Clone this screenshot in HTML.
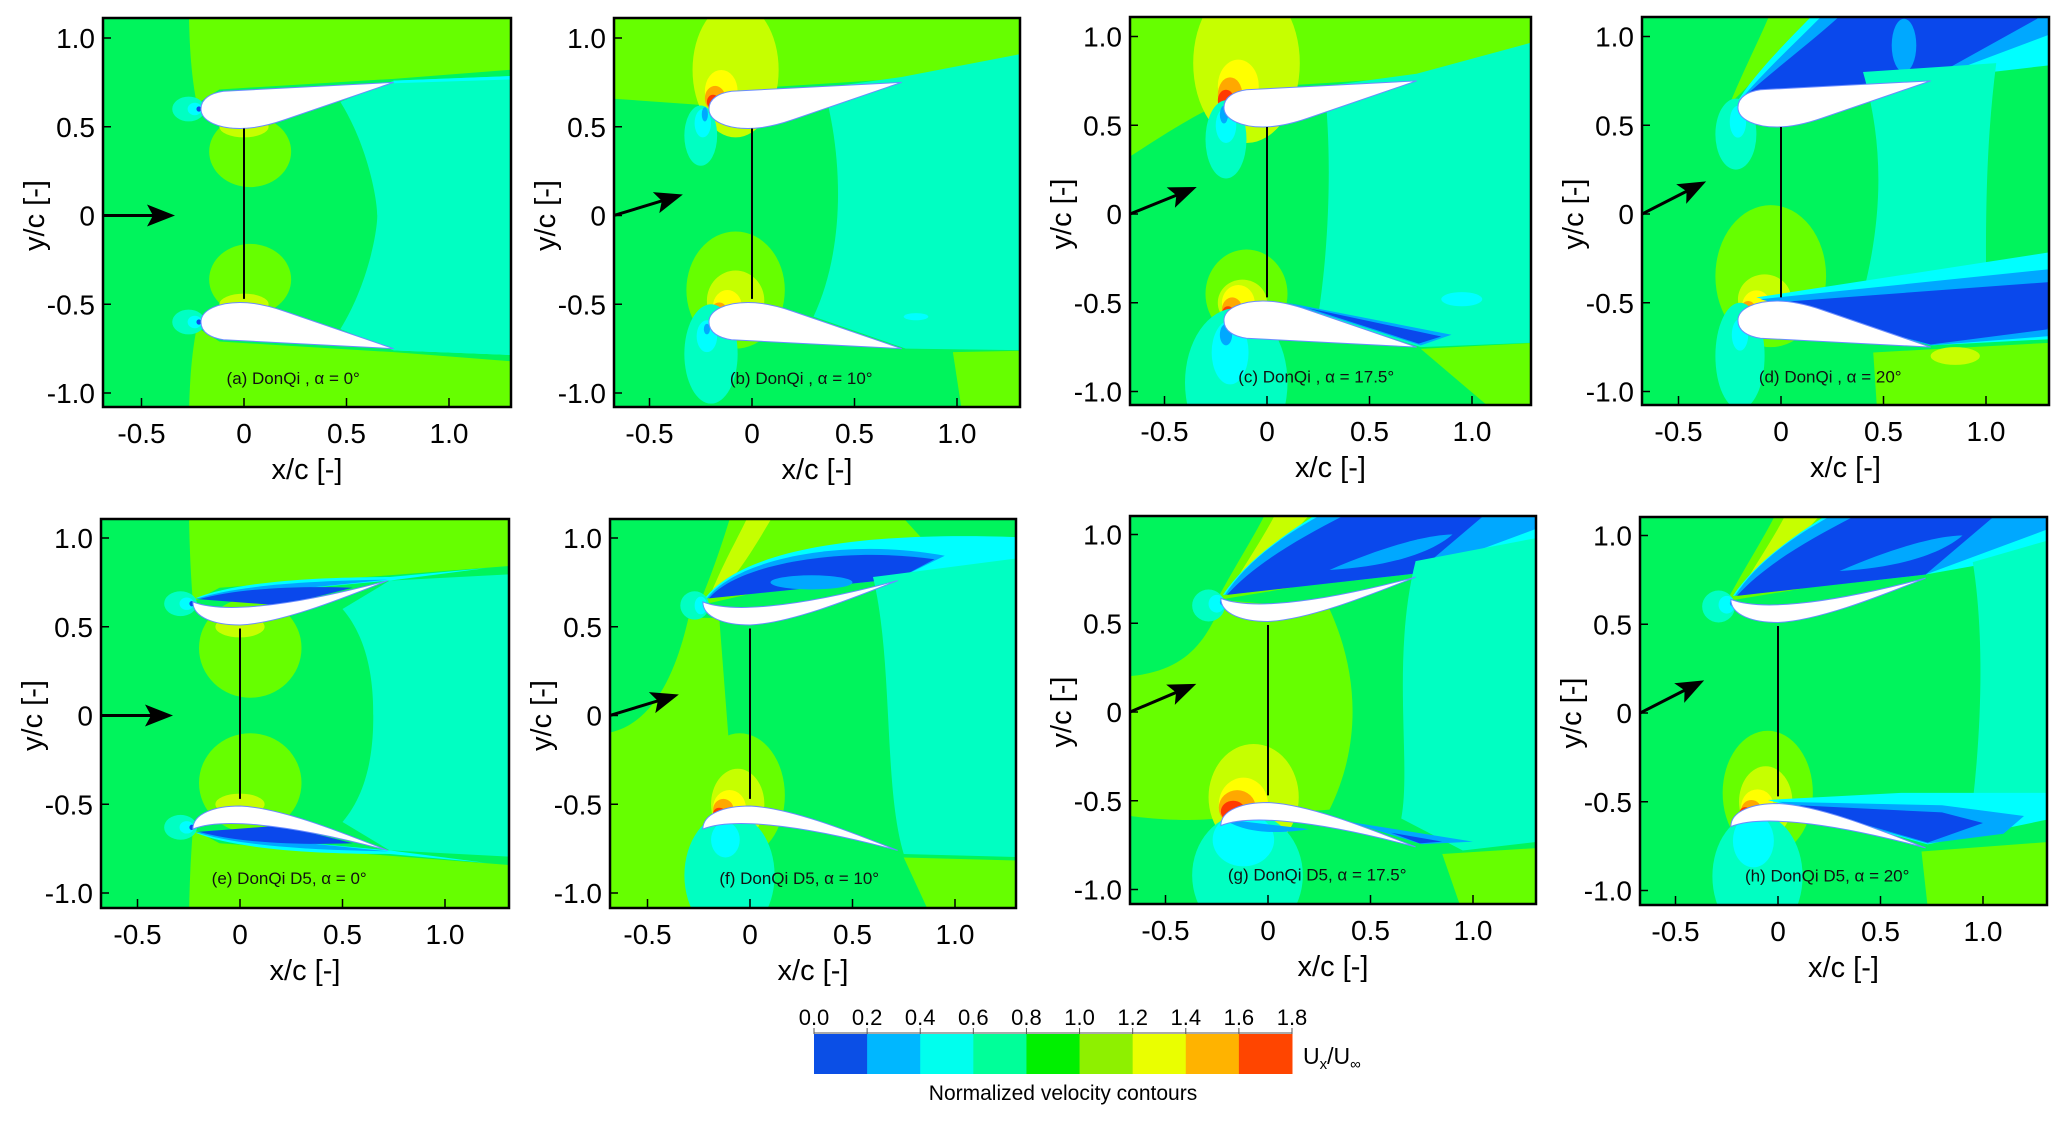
<!DOCTYPE html>
<html><head><meta charset="utf-8"><style>
html,body{margin:0;padding:0;background:#fff;}
svg{display:block;font-family:"Liberation Sans",Arial,sans-serif;}
</style></head><body>
<svg id="fig" width="2067" height="1122" viewBox="0 0 2067 1122" xmlns="http://www.w3.org/2000/svg">
<defs id="defs"></defs>
</svg>
<script>
// ---- data arrays ----
var alphas = [0, 10, 17.5, 20, 0, 10, 17.5, 20];
var arrowDisplayAngles = [0, 17, 22, 27, 0, 17, 23, 27];
var panelLetters = ['a','b','c','d','e','f','g','h'];
var models = ['DonQi','DonQi','DonQi','DonQi','DonQi D5','DonQi D5','DonQi D5','DonQi D5'];
var yTicks = [1.0, 0.5, 0, -0.5, -1.0];
var yTickLabels = ['1.0','0.5','0','-0.5','-1.0'];
var xTicks = [-0.5, 0, 0.5, 1.0];
var xTickLabels = ['-0.5','0','0.5','1.0'];
var cbLevels = ['0.0','0.2','0.4','0.6','0.8','1.0','1.2','1.4','1.6','1.8'];
var cbColors = ['#0b4fe6','#00b7ff','#00ffee','#00ff99','#00f000','#8ef000','#eaff00','#ffb300','#ff4500'];

var G='#00f45c', W='#00ffc2', L='#66ff00', YL='#c6ff00', Y='#ffff00', O='#ffa800', R='#ff3a00', C='#00ffff', B1='#00a8ff', B0='#0a48ec';
function E(cx,cy,rx,ry){return 'M '+(cx-rx)+' '+cy+' A '+rx+' '+ry+' 0 1 0 '+(cx+rx)+' '+cy+' A '+rx+' '+ry+' 0 1 0 '+(cx-rx)+' '+cy+' Z';}
function ring(x,y){return [[W,E(x,y,0.08,0.075)],[C,E(x+0.03,y,0.035,0.04)],[B1,E(x+0.05,y,0.015,0.02)]];}

var layout = [
 {x1:103,x2:511,y1:18,y2:407,x0:244,y0:215.5},
 {x1:614,x2:1020,y1:18,y2:407,x0:752,y0:215.5},
 {x1:1130,x2:1531,y1:17,y2:405,x0:1267,y0:214},
 {x1:1642,x2:2049,y1:17,y2:405,x0:1781,y0:214},
 {x1:101,x2:509,y1:519,y2:908,x0:240,y0:715.5},
 {x1:610,x2:1016,y1:519,y2:908,x0:750,y0:715.5},
 {x1:1130,x2:1536,y1:516,y2:904,x0:1268,y0:712},
 {x1:1640,x2:2047,y1:517,y2:905,x0:1778,y0:713}
];
var KX=205, KY=177.5;

var AIR_DONQI="M -0.21 0.6 C -0.21 0.66 -0.16 0.69 -0.1 0.7 L 0.73 0.75 L 0.2 0.54 C 0.1 0.5 0.03 0.49 -0.02 0.49 C -0.12 0.49 -0.21 0.53 -0.21 0.6 Z";
var AIR_D5="M -0.23 0.64 C -0.1 0.58 0.2 0.6 0.72 0.76 C 0.5 0.66 0.2 0.52 0.0 0.51 C -0.12 0.51 -0.23 0.55 -0.23 0.64 Z";

// shapes: [color, path, mirrored]
var S = [];
S[0] = [
 [L,"M -0.27 1.3 L 1.4 1.3 L 1.4 0.83 L 0.73 0.77 L -0.12 0.71 L -0.23 0.63 C -0.26 0.8 -0.27 1.0 -0.27 1.3 Z",1],
 [L,E(0.03,0.36,0.2,0.2),1],[YL,E(0.0,0.5,0.12,0.06),1],
 [W,"M 0.47 0.64 C 0.6 0.4 0.65 0.1 0.65 0 C 0.65 -0.1 0.6 -0.4 0.47 -0.64 L 0.73 -0.76 L 1.4 -0.79 L 1.4 0.79 L 0.73 0.76 Z",0],
 [C,"M 0.73 0.745 L 1.4 0.77 L 1.4 0.79 L 0.73 0.76 Z",1],
 [W,E(-0.27,0.6,0.08,0.07),1],[C,E(-0.24,0.6,0.035,0.035),1],[B0,E(-0.22,0.6,0.012,0.015),1]
];
S[1] = [
 [L,"M -0.7 0.66 L -0.21 0.62 L -0.1 0.71 L 0.73 0.77 L 1.4 0.93 L 1.4 1.3 L -0.7 1.3 Z",0],
 [YL,E(-0.08,0.82,0.21,0.38),0],[Y,E(-0.15,0.7,0.08,0.12),0],[O,E(-0.18,0.66,0.05,0.07),0],[R,E(-0.19,0.64,0.03,0.04),0],
 [W,"M 0.35 0.72 L 0.73 0.78 L 1.4 0.93 L 1.4 -0.76 L 0.75 -0.75 L 0.3 -0.57 C 0.45 -0.2 0.45 0.3 0.35 0.72 Z",0],
 [L,"M 1.05 -1.3 L 0.98 -0.77 L 1.4 -0.76 L 1.4 -1.3 Z",0],
 [W,E(-0.25,0.45,0.08,0.17),0],[C,E(-0.24,0.52,0.04,0.08),0],[B1,E(-0.23,0.57,0.015,0.04),0],
 [L,E(-0.08,-0.42,0.24,0.33),0],[YL,E(-0.08,-0.48,0.14,0.17),0],[Y,E(-0.12,-0.51,0.07,0.09),0],[O,E(-0.16,-0.54,0.04,0.05),0],
 [W,E(-0.2,-0.78,0.13,0.28),0],[C,E(-0.22,-0.68,0.05,0.09),0],[B1,E(-0.22,-0.64,0.015,0.03),0],
 [C,E(0.8,-0.57,0.06,0.02),0]
];
S[2] = [
 [L,"M -0.7 0.3 C -0.5 0.45 -0.3 0.6 -0.21 0.62 L -0.1 0.71 L 0.73 0.77 L 1.4 0.98 L 1.4 1.3 L -0.7 1.3 Z",0],
 [YL,E(-0.1,0.85,0.26,0.45),0],[Y,E(-0.14,0.72,0.1,0.15),0],[O,E(-0.18,0.67,0.06,0.1),0],[R,E(-0.2,0.64,0.04,0.06),0],
 [W,"M 0.28 0.72 L 0.73 0.79 L 1.4 1.0 L 1.4 -0.72 L 0.75 -0.75 L 0.25 -0.57 C 0.3 -0.2 0.32 0.3 0.28 0.72 Z",0],
 [L,"M 0.75 -0.76 L 1.4 -0.72 L 1.4 -1.3 L 1.3 -1.3 Z",0],
 [W,E(-0.2,0.42,0.1,0.22),0],[C,E(-0.2,0.5,0.05,0.1),0],[B1,E(-0.21,0.56,0.02,0.05),0],
 [L,E(-0.1,-0.45,0.2,0.25),0],[YL,E(-0.12,-0.5,0.12,0.13),0],[Y,E(-0.14,-0.5,0.08,0.1),0],[O,E(-0.17,-0.54,0.05,0.07),0],[R,E(-0.19,-0.56,0.03,0.04),0],
 [W,E(-0.15,-0.95,0.25,0.42),0],[C,E(-0.18,-0.78,0.09,0.18),0],[B1,E(-0.2,-0.68,0.03,0.06),0],
 [B1,"M 0.1 -0.5 L 0.9 -0.68 L 0.75 -0.74 Z",0],[B0,"M 0.2 -0.53 L 0.85 -0.69 L 0.74 -0.73 Z",0],
 [C,E(0.95,-0.48,0.1,0.04),0]
];
S[3] = [
 [L,"M -0.25 0.62 C -0.15 0.9 -0.05 1.1 0.0 1.3 L 0.35 1.3 Z",0],
 [C,"M -0.22 0.62 C -0.1 0.85 0.15 1.1 0.3 1.3 L 1.4 1.3 L 1.4 0.85 L 0.73 0.76 Z",0],
 [B1,"M -0.2 0.64 C -0.05 0.85 0.2 1.1 0.35 1.3 L 1.4 1.3 L 1.4 1.05 L 0.73 0.76 Z",0],
 [B0,"M -0.18 0.66 C 0 0.85 0.25 1.05 0.45 1.3 L 1.3 1.3 L 1.25 1.1 L 0.72 0.76 Z",0],
 [B1,E(0.6,0.95,0.06,0.15),0],
 [W,"M 0.4 0.8 L 1.05 0.85 C 1.0 0.4 1.0 0 1.0 -0.3 L 0.4 -0.45 C 0.5 0 0.5 0.4 0.4 0.8 Z",0],
 [L,E(-0.05,-0.35,0.27,0.4),0],[YL,E(-0.08,-0.48,0.13,0.14),0],[Y,E(-0.12,-0.52,0.07,0.09),0],[O,E(-0.16,-0.55,0.04,0.06),0],
 [C,"M -0.12 -0.47 L 1.4 -0.2 L 1.4 -0.7 L 0.73 -0.74 Z",0],
 [B1,"M -0.1 -0.48 L 1.4 -0.3 L 1.4 -0.68 L 0.73 -0.74 Z",0],
 [B0,"M -0.05 -0.5 L 1.35 -0.38 L 1.3 -0.65 L 0.73 -0.735 Z",0],
 [L,"M 0.45 -0.78 L 1.4 -0.72 L 1.4 -1.3 L 0.48 -1.3 Z",0],[YL,E(0.85,-0.8,0.12,0.05),0],
 [W,E(-0.22,0.45,0.1,0.2),0],[C,E(-0.21,0.52,0.04,0.09),0],[W,E(-0.2,-0.8,0.12,0.3),0],[C,E(-0.2,-0.68,0.04,0.09),0]
];
S[4] = [
 [L,"M -0.25 1.3 L 1.4 1.3 L 1.4 0.85 L 0.73 0.79 L -0.1 0.72 L -0.23 0.64 C -0.24 0.8 -0.25 1.0 -0.25 1.3 Z",1],
 [L,E(0.05,0.38,0.25,0.28),1],[YL,E(0.0,0.5,0.12,0.06),1],
 [W,"M 0.5 0.6 C 0.65 0.4 0.65 0.1 0.65 0 C 0.65 -0.1 0.65 -0.4 0.5 -0.6 L 0.73 -0.76 L 1.4 -0.8 L 1.4 0.8 L 0.73 0.76 Z",0],
 [C,"M -0.22 0.66 C 0 0.76 0.4 0.78 0.73 0.78 L 1.2 0.83 L 0.73 0.76 Z",1],
 [B1,"M -0.22 0.655 C 0 0.74 0.4 0.76 0.72 0.765 Z",1],
 [B0,"M -0.2 0.655 C 0 0.72 0.3 0.73 0.55 0.72 L 0.2 0.62 Z",1],
 [W,E(-0.29,0.63,0.08,0.07),1],[C,E(-0.26,0.63,0.035,0.035),1],[B0,E(-0.235,0.63,0.012,0.015),1]
];
var topBlue = [
 [C,"M -0.22 0.66 C -0.05 0.95 0.3 1.15 0.5 1.3 L 1.4 1.3 L 1.4 0.92 L 0.72 0.78 Z",0],
 [B1,"M -0.21 0.66 C -0.05 0.95 0.3 1.15 0.6 1.3 L 1.35 1.3 L 1.35 1.05 L 0.72 0.78 Z",0],
 [B0,"M -0.2 0.66 C 0 0.92 0.4 1.12 0.7 1.3 L 1.25 1.3 L 0.72 0.78 Z",0],
 [B1,"M 0.3 0.8 C 0.6 0.95 0.8 1.0 0.9 1.0 C 0.8 0.9 0.6 0.82 0.3 0.8 Z",0]
];
var topBand = [
 [L,"M -0.25 0.63 C -0.1 0.95 0.0 1.1 0.05 1.3 L 1.4 1.3 L 1.4 0.95 Z",0],
 [YL,"M -0.2 0.66 C -0.05 0.95 0.05 1.1 0.1 1.3 L 0.35 1.3 L 0.0 0.85 Z",0]
];
S[5] = [
 [L,"M -0.7 -0.1 C -0.45 -0.05 -0.35 0.3 -0.3 0.55 L -0.15 0.55 L -0.1 -0.2 L -0.1 -1.3 L -0.7 -1.3 Z",0],
 [L,"M -0.25 0.62 C -0.15 0.9 -0.1 1.1 -0.05 1.3 L 0.6 1.3 L 0.9 0.92 Z",0],
 [YL,"M -0.2 0.66 C -0.1 0.95 0 1.1 0.05 1.3 L 0.2 1.3 C 0.05 1.0 0 0.9 -0.1 0.75 Z",0],
 [C,"M -0.22 0.66 C -0.05 0.92 0.5 1.05 1.4 1.0 L 1.4 0.9 L 0.72 0.77 Z",0],
 [B1,"M -0.21 0.66 C -0.05 0.9 0.5 1.0 0.95 0.9 L 0.72 0.77 Z",0],
 [B0,"M -0.2 0.66 C -0.05 0.87 0.5 0.95 0.9 0.88 L 0.72 0.77 Z",0],
 [B1,E(0.3,0.75,0.2,0.04),0],
 [W,"M 0.6 0.78 L 1.4 0.9 L 1.4 -0.8 L 0.75 -0.78 C 0.65 -0.4 0.7 0.3 0.6 0.78 Z",0],
 [L,"M 0.95 -1.3 L 0.75 -0.8 L 1.4 -0.82 L 1.4 -1.3 Z",0],
 [L,E(-0.05,-0.45,0.22,0.35),0],[YL,E(-0.06,-0.5,0.13,0.2),0],[Y,E(-0.1,-0.52,0.08,0.1),0],[O,E(-0.13,-0.53,0.05,0.06),0],[R,E(-0.15,-0.55,0.03,0.03),0],
 [W,E(-0.1,-0.9,0.22,0.35),0],[C,E(-0.12,-0.7,0.07,0.1),0],
 [W,E(-0.27,0.62,0.07,0.08),0],[C,E(-0.24,0.62,0.03,0.05),0]
];
S[6] = [
 [L,"M -0.7 0.2 C -0.4 0.22 -0.3 0.4 -0.22 0.63 L 0.3 0.58 C 0.45 0.2 0.45 -0.2 0.3 -0.55 L -0.25 -0.6 C -0.4 -0.62 -0.6 -0.6 -0.7 -0.58 Z",0]
].concat(topBand, topBlue, [
 [W,"M 0.72 0.85 L 1.4 1.0 L 1.4 -0.72 L 0.95 -0.78 L 0.65 -0.6 C 0.7 -0.3 0.6 0.3 0.72 0.85 Z",0],
 [L,"M 1.0 -1.3 L 0.85 -0.8 L 1.4 -0.76 L 1.4 -1.3 Z",0],
 [YL,E(-0.07,-0.48,0.22,0.3),0],[Y,E(-0.12,-0.52,0.12,0.15),0],[O,E(-0.15,-0.54,0.09,0.1),0],[R,E(-0.17,-0.56,0.06,0.06),0],
 [W,E(-0.1,-0.92,0.27,0.35),0],[C,E(-0.12,-0.72,0.15,0.15),0],
 [B1,"M -0.22 -0.6 C -0.1 -0.7 0.1 -0.68 0.2 -0.66 L -0.1 -0.62 Z",0],
 [B1,"M 0.4 -0.62 L 1.0 -0.73 L 0.75 -0.745 Z",0],[B0,"M 0.6 -0.68 L 0.85 -0.73 L 0.74 -0.74 Z",0],
 [W,E(-0.29,0.6,0.08,0.09),0],[C,E(-0.25,0.61,0.04,0.05),0],[B1,E(-0.22,0.62,0.015,0.02),0]
]);
S[7] = [].concat(topBand, topBlue, [
 [W,"M 0.95 0.85 L 1.4 1.0 L 1.4 -0.5 L 0.95 -0.5 C 1.0 0 1.0 0.5 0.95 0.85 Z",0],
 [L,E(-0.05,-0.45,0.22,0.35),0],[YL,E(-0.06,-0.5,0.13,0.2),0],[Y,E(-0.1,-0.53,0.08,0.1),0],[O,E(-0.13,-0.55,0.05,0.06),0],[R,E(-0.16,-0.57,0.03,0.04),0],
 [C,"M -0.05 -0.49 L 0.6 -0.45 L 1.4 -0.45 L 1.4 -0.58 L 0.73 -0.74 Z",0],
 [B1,"M 0.0 -0.5 L 0.8 -0.52 L 1.2 -0.58 L 1.1 -0.68 L 0.73 -0.735 Z",0],
 [B0,"M 0.1 -0.52 L 0.8 -0.56 L 1.0 -0.62 L 0.73 -0.73 Z",0],
 [L,"M 0.7 -0.78 L 1.4 -0.72 L 1.4 -1.3 L 0.75 -1.3 Z",0],
 [W,E(-0.1,-0.92,0.22,0.35),0],[C,E(-0.12,-0.72,0.1,0.15),0],
 [W,E(-0.29,0.6,0.08,0.09),0],[C,E(-0.25,0.61,0.04,0.05),0],[B1,E(-0.22,0.62,0.015,0.02),0]
]);

var NS='http://www.w3.org/2000/svg';
var svg=document.getElementById('fig'), defs=document.getElementById('defs');
function mk(tag,attrs,parent){var e=document.createElementNS(NS,tag);for(var k in attrs)e.setAttribute(k,attrs[k]);(parent||svg).appendChild(e);return e;}

layout.forEach(function(P,i){
  var sx=function(v){return P.x0+v*KX;}, sy=function(v){return P.y0-v*KY;};
  var g=mk('g',{});
  
  
  var cp=mk('clipPath',{id:'clip'+i},defs);
  mk('rect',{x:P.x1,y:P.y1,width:P.x2-P.x1,height:P.y2-P.y1},cp);
  var bg=mk('rect',{x:P.x1,y:P.y1,width:P.x2-P.x1,height:P.y2-P.y1,fill:G},g);
  
  
  var cg=mk('g',{'clip-path':'url(#clip'+i+')'},g);
  var dg=mk('g',{transform:'translate('+P.x0+','+P.y0+') scale('+KX+','+(-KY)+')'},cg);
  
  
  var mg=mk('g',{transform:'scale(1,-1)'},dg);
  S[i].forEach(function(s){
    mk('path',{d:s[1],fill:s[0]},dg);
    if(s[2]) mk('path',{d:s[1],fill:s[0]},mg);
  });
  var af=(i<4)?AIR_DONQI:AIR_D5;
  var a1=mk('path',{d:af,fill:'#fff',stroke:'#6a8cff','stroke-width':1,'vector-effect':'non-scaling-stroke'},dg);
  
  
  var a2=mk('path',{d:af,fill:'#fff',stroke:'#6a8cff','stroke-width':1,'vector-effect':'non-scaling-stroke',transform:'scale(1,-1)'},dg);
  
  
  var vl=mk('line',{x1:sx(0),x2:sx(0),y1:sy(0.49),y2:sy(-0.47),stroke:'#000','stroke-width':2},cg);
  
  
  // arrow
  var ang=arrowDisplayAngles[i]*Math.PI/180, len=72;
  var tx=P.x1, ty=sy(0), hx=tx+len*Math.cos(ang), hy=ty-len*Math.sin(ang);
  var ux=Math.cos(ang), uy=-Math.sin(ang), px=-uy, py=ux;
  var ag=mk('g',{},cg);
  
  
  mk('line',{x1:tx,y1:ty,x2:hx-ux*20,y2:hy-uy*20,stroke:'#000','stroke-width':3},ag);
  mk('polygon',{points:hx+','+hy+' '+(hx-ux*28+px*11)+','+(hy-uy*28+py*11)+' '+(hx-ux*22)+','+(hy-uy*22)+' '+(hx-ux*28-px*11)+','+(hy-uy*28-py*11),fill:'#000'},ag);
  var bx=mk('rect',{x:P.x1,y:P.y1,width:P.x2-P.x1,height:P.y2-P.y1,fill:'none',stroke:'#000','stroke-width':2.5},g);
  
  
  yTicks.forEach(function(v,j){
    var y=sy(v);
    mk('line',{x1:P.x1,x2:P.x1+8,y1:y,y2:y,stroke:'#000','stroke-width':1.5},g);
    var t=mk('text',{x:P.x1-8,y:y+10,'text-anchor':'end','font-size':28,fill:'#000'},g);
    t.textContent=yTickLabels[j];
    
    
  });
  xTicks.forEach(function(v,j){
    var x=sx(v);
    mk('line',{x1:x,x2:x,y1:P.y2,y2:P.y2-9,stroke:'#000','stroke-width':1.5},g);
    var t=mk('text',{x:x,y:P.y2+36,'text-anchor':'middle','font-size':28,fill:'#000'},g);
    t.textContent=xTickLabels[j];
    
    
  });
  var xt=mk('text',{x:(P.x1+P.x2)/2,y:P.y2+72,'text-anchor':'middle','font-size':29,fill:'#000'},g);
  xt.textContent='x/c [-]';
  
  
  var cy=sy(0);
  var yt=mk('text',{x:0,y:0,transform:'translate('+(P.x1-59)+','+cy+') rotate(-90)','text-anchor':'middle','font-size':29,fill:'#000'},g);
  yt.textContent='y/c [-]';
  
  
  var pl=mk('text',{x:sx(0.24),y:sy(-0.95),'text-anchor':'middle','font-size':17,fill:'#111'},g);
  pl.textContent='('+panelLetters[i]+') '+models[i]+(i<4?' ,':',')+' α = '+alphas[i]+'°';
  
  
});

// colorbar
var cb=mk('g',{});


var cbx1=814, cbx2=1292, cby1=1034, cby2=1074, segW=(cbx2-cbx1)/cbColors.length;
cbColors.forEach(function(c,k){
  var r=mk('rect',{x:cbx1+k*segW,y:cby1,width:segW+0.5,height:cby2-cby1,fill:c},cb);
  
  
});
mk('line',{x1:cbx1,x2:cbx2,y1:cby1-1,y2:cby1-1,stroke:'#555','stroke-width':1},cb);
cbLevels.forEach(function(lv,k){
  var x=cbx1+k*segW;
  mk('line',{x1:x,x2:x,y1:cby1-6,y2:cby1,stroke:'#555','stroke-width':1},cb);
  var t=mk('text',{x:x,y:cby1-9,'text-anchor':'middle','font-size':22,fill:'#000'},cb);
  t.textContent=lv;
  
  
});
var ut=mk('text',{x:1303,y:1064,'font-size':23,fill:'#000'},cb);
ut.innerHTML='U<tspan font-size="15" dy="5">x</tspan><tspan dy="-5">/U</tspan><tspan font-size="15" dy="5">∞</tspan>';


var nt=mk('text',{x:1063,y:1100,'text-anchor':'middle','font-size':21,fill:'#000'},cb);
nt.textContent='Normalized velocity contours';


</script>
</body></html>
